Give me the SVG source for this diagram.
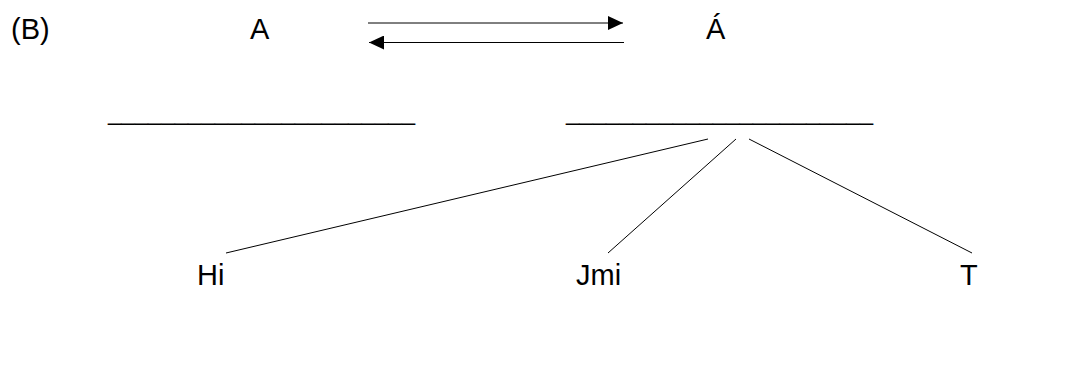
<svg xmlns="http://www.w3.org/2000/svg" width="1082" height="369" viewBox="0 0 1082 369">
<style>
text{font-family:"Liberation Sans",Arial,sans-serif;font-size:29px;fill:#000}
text.u{font-size:24px}
.c{stroke:#000;stroke-width:1;fill:none}
</style>
<defs>
<marker id="ah" markerWidth="16" markerHeight="14" refX="15" refY="7" orient="auto" markerUnits="userSpaceOnUse">
<path d="M0,0 L15,7 L0,14 Z" fill="#000"/>
</marker>
</defs>
<rect width="1082" height="369" fill="#fff"/>
<g id="label-b"><text x="11" y="39">(B)</text></g>
<g id="node-a"><text x="250" y="39">A</text></g>
<g id="node-a-acute"><text x="706" y="39">Á</text></g>
<g id="blank-left"><text class="u" x="108" y="120">_______________________</text></g>
<g id="blank-right"><text class="u" x="566" y="120">_______________________</text></g>
<g id="node-hi"><text x="197" y="285">Hi</text></g>
<g id="node-jmi"><text x="576" y="285">Jmi</text></g>
<g id="node-t"><text x="960" y="285">T</text></g>
<g id="connectors">
<line class="c" x1="368" y1="23" x2="623" y2="23" marker-end="url(#ah)"/>
<line class="c" x1="624" y1="42.5" x2="369" y2="42.5" marker-end="url(#ah)"/>
<line class="c" x1="708" y1="139" x2="226" y2="253"/>
<line class="c" x1="736" y1="139" x2="608" y2="253"/>
<line class="c" x1="749" y1="139" x2="972" y2="253"/>
</g>
</svg>
